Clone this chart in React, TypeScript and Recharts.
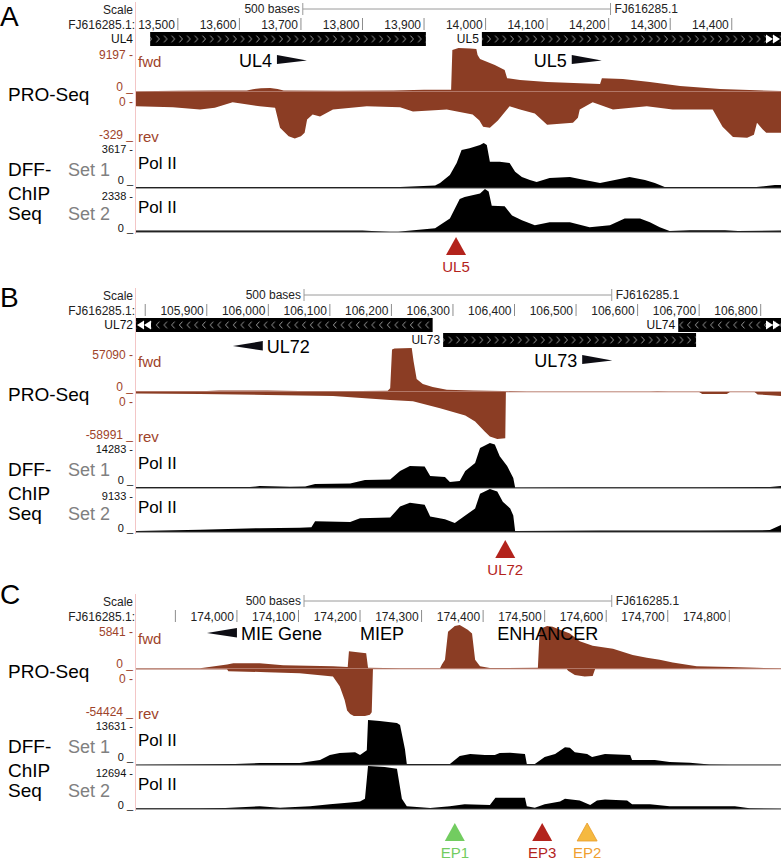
import React from "react";
import {
  AreaChart,
  Area,
  ComposedChart,
  ScatterChart,
  Scatter,
  XAxis,
  YAxis,
  ReferenceArea,
  ReferenceDot,
  ReferenceLine,
} from "recharts";

type Pt = [number, number];

// ---------- panel A : UL4 / UL5 ----------
const domainA: [number, number] = [13432, 14480];
const ticksA = [13500, 13600, 13700, 13800, 13900, 14000, 14100, 14200, 14300, 14400];
const tickLabelsA = ["13,500", "13,600", "13,700", "13,800", "13,900", "14,000", "14,100", "14,200", "14,300", "14,400"];
const scaleStartA = 13703;
const geneNamesA = ["UL4", "UL5"];
const geneStartA = [13455, 13994];
const geneEndA = [13903, 14520];
const geneStrandA = ["+", "+"];
const geneRowA = [0, 0];
const labelTextA = ["UL4", "UL5"];
const labelPosA = [13661, 14140];
const labelDirA = ["+", "+"];
const maximaA = [9197, -329, 3617, 2338];
const markerPosA = [13952];
const markerNameA = ["UL5"];

const fwdA: Pt[] = [
  [13432, 150], [13500, 250], [13560, 300], [13612, 300], [13622, 600], [13635, 800], [13650, 850],
  [13662, 650], [13672, 300], [13760, 250], [13850, 300], [13900, 450], [13944, 450], [13946, 8800],
  [13956, 9197], [13975, 9100], [13985, 8990], [13987, 7730], [13991, 6900], [14015, 5640], [14031, 4600],
  [14035, 2900], [14056, 2500], [14100, 2090], [14186, 1670], [14189, 2900], [14223, 2700], [14267, 2090],
  [14316, 1250], [14381, 630], [14480, 200],
];
const revA: Pt[] = [
  [13432, -100], [13492, -107], [13536, -122], [13560, -110], [13589, -72], [13633, -100], [13658, -110],
  [13666, -250], [13680, -310], [13690, -325], [13700, -310], [13706, -286], [13710, -193], [13719, -157],
  [13731, -172], [13752, -122], [13807, -100], [13861, -107], [13882, -136], [13910, -130], [13937, -122],
  [13979, -157], [13990, -200], [13996, -243], [14007, -250], [14020, -200], [14028, -157], [14039, -100],
  [14056, -122], [14080, -150], [14100, -229], [14142, -215], [14150, -180], [14153, -122], [14174, -72],
  [14207, -122], [14262, -100], [14304, -122], [14369, -122], [14385, -243], [14402, -315], [14425, -320],
  [14436, -300], [14441, -215], [14450, -260], [14456, -286], [14480, -286],
];
const polA1: Pt[] = [
  [13432, 80], [13861, 80], [13918, 200], [13926, 400], [13942, 1050], [13953, 2000], [13961, 3050],
  [13974, 3200], [13991, 3450], [13997, 3617], [14002, 3450], [14007, 2100], [14023, 2100], [14039, 2000],
  [14048, 1300], [14059, 880], [14072, 640], [14083, 480], [14104, 800], [14137, 880], [14161, 640],
  [14186, 400], [14210, 640], [14234, 880], [14259, 640], [14275, 400], [14291, 80], [14440, 80],
  [14470, 240], [14480, 240],
];
const polA2: Pt[] = [
  [13432, 80], [13800, 80], [13845, 0], [13858, 0], [13870, 60], [13918, 210], [13942, 740],
  [13958, 1800], [13966, 1900], [13991, 2100], [13999, 2338], [14005, 2200], [14010, 1430], [14031, 1400],
  [14043, 900], [14059, 640], [14080, 370], [14104, 530], [14137, 530], [14169, 265], [14202, 370],
  [14226, 740], [14251, 740], [14267, 530], [14283, 265], [14299, 50], [14332, 100], [14389, 100],
  [14410, 50], [14480, 80],
];

// ---------- panel B : UL72 / UL73 ----------
const domainB: [number, number] = [105785, 106833];
const ticksB = [105800, 105900, 106000, 106100, 106200, 106300, 106400, 106500, 106600, 106700, 106800];
const tickLabelsB = ["", "105,900", "106,000", "106,100", "106,200", "106,300", "106,400", "106,500", "106,600", "106,700", "106,800"];
const scaleStartB = 106058;
const geneNamesB = ["UL72", "UL73", "UL74"];
const geneStartB = [105700, 106284, 106666];
const geneEndB = [106267, 106695, 106900];
const geneStrandB = ["-", "+", "-"];
const geneRowB = [0, 1, 0];
const labelTextB = ["UL72", "UL73"];
const labelPosB = [105991, 106510];
const labelDirB = ["-", "+"];
const maximaB = [57090, -58991, 14283, 9133];
const markerPosB = [106385];
const markerNameB = ["UL72"];

const fwdB: Pt[] = [
  [105785, 1300], [105900, 1300], [105920, 1800], [105998, 1800], [106050, 1300], [106150, 1300],
  [106194, 1600], [106198, 5000], [106201, 55000], [106205, 56500], [106233, 57090], [106236, 40000],
  [106241, 17000], [106251, 10400], [106267, 6500], [106290, 3000], [106333, 2000], [106381, 1300],
  [106420, 600], [106620, 600], [106632, 900], [106650, 600], [106833, 600],
];
const revB: Pt[] = [
  [105785, -2000], [105889, -2500], [105998, -3800], [106105, -5000], [106198, -10000], [106235, -11500],
  [106279, -20500], [106320, -29500], [106336, -37000], [106352, -50000], [106360, -56000],
  [106372, -58991], [106385, -58000], [106386, 0], [106700, 0], [106705, -2500], [106745, -2500],
  [106750, 0], [106790, 0], [106795, -3000], [106833, -5000],
];
const polB1: Pt[] = [
  [105785, 300], [105970, 300], [105986, 600], [106035, 400], [106060, 450], [106076, 1300],
  [106133, 1400], [106157, 2500], [106198, 2700], [106214, 5400], [106230, 7000], [106254, 6800],
  [106263, 3800], [106287, 3500], [106295, 1900], [106311, 2200], [106320, 5400], [106336, 7900],
  [106344, 12700], [106360, 14283], [106368, 13800], [106376, 10100], [106388, 7000], [106398, 3200],
  [106401, 150], [106500, 200], [106700, 200], [106815, 300], [106833, 600],
];
const polB2: Pt[] = [
  [105785, 200], [105889, 500], [105986, 800], [106051, 900], [106070, 1000], [106076, 2300],
  [106133, 2100], [106149, 2900], [106198, 3100], [106214, 5400], [106230, 6200], [106254, 5800],
  [106263, 3300], [106287, 2700], [106303, 1900], [106320, 3500], [106336, 5000], [106344, 8100],
  [106360, 9133], [106372, 8600], [106381, 6400], [106393, 5000], [106398, 3500], [106401, 200],
  [106539, 300], [106702, 300], [106815, 400], [106833, 1500],
];

// ---------- panel C : MIE enhancer ----------
const domainC: [number, number] = [173836, 174884];
const ticksC = [173900, 174000, 174100, 174200, 174300, 174400, 174500, 174600, 174700, 174800];
const tickLabelsC = ["", "174,000", "174,100", "174,200", "174,300", "174,400", "174,500", "174,600", "174,700", "174,800"];
const scaleStartC = 174109;
const labelTextC = ["MIE Gene", "MIEP", "ENHANCER"];
const labelPosC = [174000, 174200, 174423];
const labelDirC = ["-", "", ""];
const maximaC = [5841, -54424, 13631, 12694];
const markerPosC = [174354, 174496, 174569];
const markerNameC = ["EP1", "EP3", "EP2"];

const fwdC: Pt[] = [
  [173836, 100], [173940, 100], [173984, 600], [173994, 750], [174037, 750], [174075, 500],
  [174156, 370], [174180, 250], [174182, 2350], [174210, 2100], [174213, 150], [174265, 100],
  [174330, 100], [174333, 600], [174338, 1240], [174343, 4960], [174354, 5700], [174362, 5841],
  [174375, 5200], [174382, 4700], [174387, 1240], [174395, 370], [174411, 120], [174489, 150],
  [174492, 5300], [174504, 5700], [174513, 5600], [174525, 5200], [174541, 4700], [174557, 3700],
  [174578, 3100], [174611, 2700], [174643, 1860], [174666, 1500], [174687, 1240], [174708, 870],
  [174747, 370], [174801, 250], [174845, 150], [174884, 100],
];
const revC: Pt[] = [
  [173836, -300], [173984, -300], [173986, -2500], [174049, -3700], [174102, -5000], [174156, -8700],
  [174167, -20000], [174175, -36000], [174179, -48000], [174184, -52000], [174190, -54424],
  [174208, -54424], [174216, -53000], [174219, -50000], [174221, 0], [174536, 0], [174538, -2000],
  [174549, -7000], [174565, -8700], [174578, -8000], [174582, 0], [174884, 0],
];
const polC1: Pt[] = [
  [173836, 50], [173997, 300], [174037, 600], [174102, 600], [174135, 1500], [174151, 3000],
  [174167, 3600], [174192, 3900], [174200, 3000], [174211, 4500], [174213, 13631], [174232, 13300],
  [174260, 12700], [174265, 12100], [174273, 4800], [174276, 300], [174346, 300], [174362, 2700],
  [174379, 3300], [174403, 3000], [174419, 3000], [174427, 3600], [174444, 3700], [174468, 3300],
  [174471, 300], [174484, 300], [174500, 2400], [174517, 3300], [174533, 5400], [174541, 5200],
  [174549, 3900], [174569, 3300], [174577, 2400], [174598, 3300], [174639, 3000], [174642, 1500],
  [174679, 1500], [174703, 900], [174736, 700], [174768, 150], [174800, 50], [174884, 50],
];
const polC2: Pt[] = [
  [173836, 200], [173940, 200], [173981, 300], [174037, 800], [174070, 400], [174119, 800],
  [174151, 1400], [174184, 1900], [174200, 2200], [174208, 3000], [174213, 12694], [174240, 12400],
  [174260, 11900], [174268, 3000], [174276, 800], [174314, 300], [174346, 800], [174370, 1400],
  [174411, 1200], [174420, 3300], [174468, 3300], [174471, 800], [174484, 400], [174500, 1400],
  [174525, 2200], [174533, 3000], [174557, 2500], [174574, 1200], [174585, 2500], [174598, 2800],
  [174634, 2500], [174642, 1400], [174671, 1400], [174703, 800], [174809, 800], [174833, 200],
  [174884, 100],
];

// ---------- styling / layout ----------
const W = 781;
const LEFT = 136;
const AXIS_H = 32; // scale row + coordinate row
const FONT = '"Liberation Sans", Arial, Helvetica, sans-serif';
const BROWN = "#8b3d24";
const BROWN_TXT = "#9e432a";
const PINK = "#f3c6c6";
const MARK_COLORS: Record<string, [string, string]> = {
  UL5: ["#b3231c", "#b3231c"],
  UL72: ["#b3231c", "#b3231c"],
  EP1: ["#72cc60", "#72cc60"],
  EP3: ["#b3231c", "#b3231c"],
  EP2: ["#f5b940", "#f0a030"],
};

interface Gene { name: string; start: number; end: number; strand: string; row: number }
interface GLabel { text: string; pos: number; dir: string; y: number }
interface Panel {
  id: string;
  letter: string;
  letterY: number;
  hdrTop: number;
  hdrH: number;
  trkOff: number;
  markTop: number;
  domain: [number, number];
  ticks: number[];
  tickLabels: string[];
  scaleStart: number;
  genes: Gene[];
  labels: GLabel[];
  tracks: Pt[][];
  maxima: number[];
  markers: { x: number; y: number; name: string }[];
}

const genes = (n: string[], s: number[], e: number[], st: string[], r: number[]): Gene[] =>
  n.map((name, i) => ({ name, start: s[i], end: e[i], strand: st[i], row: r[i] }));
const glabels = (t: string[], p: number[], d: string[], y: number[]): GLabel[] =>
  t.map((text, i) => ({ text, pos: p[i], dir: d[i], y: y[i] }));
const marks = (p: number[], n: string[]) => p.map((x, i) => ({ x, y: 1, name: n[i] }));

const panels: Panel[] = [
  {
    id: "A", letter: "A", letterY: 26, hdrTop: 0, hdrH: 72, trkOff: 0, markTop: 237,
    domain: domainA, ticks: ticksA, tickLabels: tickLabelsA, scaleStart: scaleStartA,
    genes: genes(geneNamesA, geneStartA, geneEndA, geneStrandA, geneRowA),
    labels: glabels(labelTextA, labelPosA, labelDirA, [60, 60]),
    tracks: [fwdA, revA, polA1, polA2], maxima: maximaA,
    markers: marks(markerPosA, markerNameA),
  },
  {
    id: "B", letter: "B", letterY: 307, hdrTop: 286, hdrH: 90, trkOff: 300, markTop: 540,
    domain: domainB, ticks: ticksB, tickLabels: tickLabelsB, scaleStart: scaleStartB,
    genes: genes(geneNamesB, geneStartB, geneEndB, geneStrandB, geneRowB),
    labels: glabels(labelTextB, labelPosB, labelDirB, [60, 74]),
    tracks: [fwdB, revB, polB1, polB2], maxima: maximaB,
    markers: marks(markerPosB, markerNameB),
  },
  {
    id: "C", letter: "C", letterY: 604, hdrTop: 592, hdrH: 58, trkOff: 577, markTop: 823,
    domain: domainC, ticks: ticksC, tickLabels: tickLabelsC, scaleStart: scaleStartC,
    genes: [],
    labels: glabels(labelTextC, labelPosC, labelDirC, [41, 41, 41]),
    tracks: [fwdC, revC, polC1, polC2], maxima: maximaC,
    markers: marks(markerPosC, markerNameC),
  },
];

const rowTop = (r: number) => 32 + r * 15;

function Track(props: {
  top: number; height: number; data: Pt[]; domain: [number, number];
  yDomain: [number, number]; color: string; base?: string; bottom: number;
}) {
  const { top, height, data, domain, yDomain, color, base, bottom } = props;
  return (
    <div style={{ position: "absolute", left: 0, top }}>
      <AreaChart
        width={W}
        height={height}
        data={data.map(([x, y]) => ({ x, y }))}
        margin={{ top: 0, right: 0, bottom, left: LEFT }}
      >
        <XAxis type="number" dataKey="x" domain={domain} hide allowDataOverflow />
        <YAxis type="number" domain={yDomain} hide allowDataOverflow />
        <Area
          type="linear"
          dataKey="y"
          stroke="none"
          fill={color}
          fillOpacity={1}
          baseValue={0}
          dot={false}
          activeDot={false}
          isAnimationActive={false}
        />
        {base && <ReferenceLine y={0} stroke={base} strokeWidth={1} />}
      </AreaChart>
    </div>
  );
}

function Header({ p }: { p: Panel }) {
  const [d0, d1] = p.domain;
  const pxPerBase = (W - LEFT) / (d1 - d0);
  const tick = (props: any) => {
    const { x, payload } = props;
    const i = p.ticks.indexOf(payload.value);
    return (
      <g>
        <line x1={x} x2={x} y1={18} y2={30} stroke="#8c8c8c" strokeWidth={1} />
        <text x={x - 3} y={29} textAnchor="end" fontSize={12} fill="#222">
          {p.tickLabels[i]}
        </text>
      </g>
    );
  };
  return (
    <div style={{ position: "absolute", left: 0, top: p.hdrTop }}>
      <ComposedChart
        width={W}
        height={p.hdrH}
        data={p.ticks.map((t) => ({ x: t }))}
        margin={{ top: 0, right: 0, bottom: 0, left: LEFT }}
      >
        <defs>
          {[0, 1].map((r) =>
            ["f", "r"].map((s) => (
              <pattern
                key={`${r}${s}`}
                id={`chev-${p.id}-${r}-${s}`}
                patternUnits="userSpaceOnUse"
                x={0}
                y={rowTop(r)}
                width={7.7}
                height={14}
              >
                <rect width={7.7} height={14} fill="#000" />
                <path
                  d={s === "f" ? "M2.3,3.6 L5.3,7 L2.3,10.4" : "M5.3,3.6 L2.3,7 L5.3,10.4"}
                  stroke="#a8a8a8"
                  strokeWidth={0.9}
                  fill="none"
                />
              </pattern>
            ))
          )}
        </defs>
        <XAxis
          type="number"
          dataKey="x"
          domain={p.domain}
          allowDataOverflow
          orientation="top"
          height={AXIS_H}
          axisLine={false}
          tickLine={false}
          ticks={p.ticks}
          interval={0}
          tick={tick}
        />
        <YAxis type="number" domain={[AXIS_H, p.hdrH]} reversed hide allowDataOverflow />
        <ReferenceLine
          segment={[{ x: p.scaleStart, y: 9 }, { x: p.scaleStart + 500, y: 9 }]}
          stroke="#9a9a9a"
          ifOverflow="visible"
        />
        <ReferenceDot
          x={p.scaleStart}
          y={9}
          ifOverflow="visible"
          shape={(s: any) => (
            <g>
              <line x1={s.cx} x2={s.cx} y1={3} y2={15} stroke="#9a9a9a" />
              <text x={s.cx - 3} y={13} textAnchor="end" fontSize={12} fill="#222">
                500 bases
              </text>
            </g>
          )}
        />
        <ReferenceDot
          x={p.scaleStart + 500}
          y={9}
          ifOverflow="visible"
          shape={(s: any) => (
            <g>
              <line x1={s.cx} x2={s.cx} y1={3} y2={15} stroke="#9a9a9a" />
              <text x={s.cx + 4} y={13} fontSize={12} fill="#222">
                FJ616285.1
              </text>
            </g>
          )}
        />
        {p.genes.map((g, i) => (
          <ReferenceArea
            key={`ga${i}`}
            x1={g.start}
            x2={g.end}
            y1={rowTop(g.row)}
            y2={rowTop(g.row) + 14}
            fill={`url(#chev-${p.id}-${g.row}-${g.strand === "+" ? "f" : "r"})`}
            fillOpacity={1}
            stroke="none"
            ifOverflow="hidden"
          />
        ))}
        {p.genes.map((g, i) => {
          const side = (g.start - d0) * pxPerBase < 30;
          return (
            <ReferenceDot
              key={`gn${i}`}
              x={Math.max(g.start, d0)}
              y={rowTop(g.row) + 7}
              ifOverflow="visible"
              shape={(s: any) => (
                <text
                  x={side ? 133 : s.cx - 3}
                  y={s.cy + 4.3}
                  textAnchor="end"
                  fontSize={12}
                  fill="#111"
                >
                  {g.name}
                </text>
              )}
            />
          );
        })}
        {p.genes
          .filter((g) => g.end > d1 || g.start < d0)
          .map((g, i) => {
            const right = g.end > d1;
            return (
              <ReferenceDot
                key={`ge${i}`}
                x={right ? d1 : d0}
                y={rowTop(g.row) + 7}
                ifOverflow="visible"
                shape={(s: any) => {
                  const { cx, cy } = s;
                  const k = right ? -1 : 1;
                  const tri = (o: number) =>
                    `${cx + k * (o + 7)},${cy - 4.5} ${cx + k * o},${cy} ${cx + k * (o + 7)},${cy + 4.5}`;
                  return (
                    <g fill="#fff">
                      <polygon points={tri(1)} />
                      <polygon points={tri(8)} />
                    </g>
                  );
                }}
              />
            );
          })}
        {p.labels.map((l, i) => (
          <ReferenceDot
            key={`gl${i}`}
            x={l.pos}
            y={l.y}
            ifOverflow="visible"
            shape={(s: any) => {
              const { cx, cy } = s;
              if (l.dir === "+") {
                return (
                  <g>
                    <text x={cx - 5} y={cy + 6.5} textAnchor="end" fontSize={18} fill="#000">
                      {l.text}
                    </text>
                    <polygon points={`${cx},${cy - 5} ${cx + 30},${cy + 0.5} ${cx},${cy + 4}`} fill="#0d0d14" />
                  </g>
                );
              }
              if (l.dir === "-") {
                return (
                  <g>
                    <polygon points={`${cx},${cy - 5} ${cx - 30},${cy} ${cx},${cy + 4.5}`} fill="#0d0d14" />
                    <text x={cx + 4} y={cy + 6.5} fontSize={18} fill="#000">
                      {l.text}
                    </text>
                  </g>
                );
              }
              return (
                <text x={cx} y={cy + 6.5} fontSize={18} fill="#000">
                  {l.text}
                </text>
              );
            }}
          />
        ))}
      </ComposedChart>
    </div>
  );
}

function Markers({ p }: { p: Panel }) {
  return (
    <div style={{ position: "absolute", left: 0, top: p.markTop }}>
      <ScatterChart width={W} height={44} margin={{ top: 0, right: 0, bottom: 0, left: LEFT }}>
        <XAxis type="number" dataKey="x" domain={p.domain} hide allowDataOverflow />
        <YAxis type="number" dataKey="y" domain={[0, 1]} hide allowDataOverflow />
        <Scatter
          data={p.markers}
          isAnimationActive={false}
          shape={(s: any) => {
            const { cx, cy, payload } = s;
            const [fill, txt] = MARK_COLORS[payload.name];
            return (
              <g>
                <polygon
                  points={`${cx - 10},${cy + 18} ${cx},${cy} ${cx + 10},${cy + 18}`}
                  fill={fill}
                  stroke={payload.name === "EP2" ? "#e79a2a" : "none"}
                  strokeWidth={0.8}
                />
                <text x={cx} y={cy + 35} textAnchor="middle" fontSize={15} fill={txt}>
                  {payload.name}
                </text>
              </g>
            );
          }}
        />
      </ScatterChart>
    </div>
  );
}

function LeftLabels({ p }: { p: Panel }) {
  const o = p.trkOff;
  const h = p.hdrTop;
  const [fMax, rMin, p1, p2] = p.maxima;
  const R = (y: number, t: string, size: number, fill: string, x = 133) => (
    <text x={x} y={y} textAnchor="end" fontSize={size} fill={fill}>
      {t}
    </text>
  );
  const L = (x: number, y: number, t: string, size: number, fill: string) => (
    <text x={x} y={y} fontSize={size} fill={fill}>
      {t}
    </text>
  );
  return (
    <g>
      <line x1={135.5} x2={135.5} y1={h + 2} y2={o + 234} stroke={PINK} strokeWidth={1} />
      <text x={0} y={p.letterY} fontSize={28} fill="#000">
        {p.letter}
      </text>
      {R(h + 14, "Scale", 12, "#222")}
      {R(h + 29, "FJ616285.1:", 12, "#222", 135)}
      {R(o + 59, `${fMax} -`, 12, BROWN_TXT)}
      {L(138, o + 67, "fwd", 15, BROWN_TXT)}
      {L(8, o + 101, "PRO-Seq", 19, "#000")}
      {R(o + 91, "0 _", 12, BROWN_TXT)}
      {R(o + 106, "0 -", 12, BROWN_TXT)}
      {R(o + 139, `${rMin} _`, 12, BROWN_TXT)}
      {L(138, o + 142, "rev", 15, BROWN_TXT)}
      {R(o + 153, `${p1} -`, 11, "#111")}
      {L(138, o + 169, "Pol II", 17, "#000")}
      {L(8, o + 176, "DFF-", 19, "#000")}
      {L(68, o + 176, "Set 1", 18, "#808080")}
      {R(o + 184, "0 _", 11, "#111")}
      {R(o + 200, `${p2} -`, 11, "#111")}
      {L(8, o + 200, "ChIP", 19, "#000")}
      {L(138, o + 213, "Pol II", 17, "#000")}
      {L(8, o + 220, "Seq", 19, "#000")}
      {L(68, o + 220, "Set 2", 18, "#808080")}
      {R(o + 232, "0 _", 11, "#111")}
    </g>
  );
}

function PanelView({ p }: { p: Panel }) {
  const o = p.trkOff;
  const [fwd, rev, pol1, pol2] = p.tracks;
  const [fMax, rMin, m1, m2] = p.maxima;
  return (
    <>
      <Track top={o + 48} height={45} bottom={1} data={fwd} domain={p.domain} yDomain={[0, fMax]} color={BROWN} base="#d9b3ab" />
      <Track top={o + 92} height={47} bottom={0} data={rev} domain={p.domain} yDomain={[rMin, 0]} color={BROWN} />
      <Track top={o + 143} height={46} bottom={1} data={pol1} domain={p.domain} yDomain={[0, m1]} color="#000" base="#444" />
      <Track top={o + 189} height={44} bottom={1} data={pol2} domain={p.domain} yDomain={[0, m2]} color="#000" base="#444" />
      <Header p={p} />
      <Markers p={p} />
    </>
  );
}

export default function App() {
  return (
    <div
      style={{
        position: "absolute",
        left: 0,
        top: 0,
        width: W,
        height: 861,
        background: "#fff",
        fontFamily: FONT,
        overflow: "hidden",
      }}
    >
      {panels.map((p) => (
        <PanelView key={p.id} p={p} />
      ))}
      <svg
        width={W}
        height={861}
        style={{ position: "absolute", left: 0, top: 0, pointerEvents: "none", fontFamily: FONT }}
      >
        {panels.map((p) => (
          <LeftLabels key={p.id} p={p} />
        ))}
      </svg>
    </div>
  );
}
